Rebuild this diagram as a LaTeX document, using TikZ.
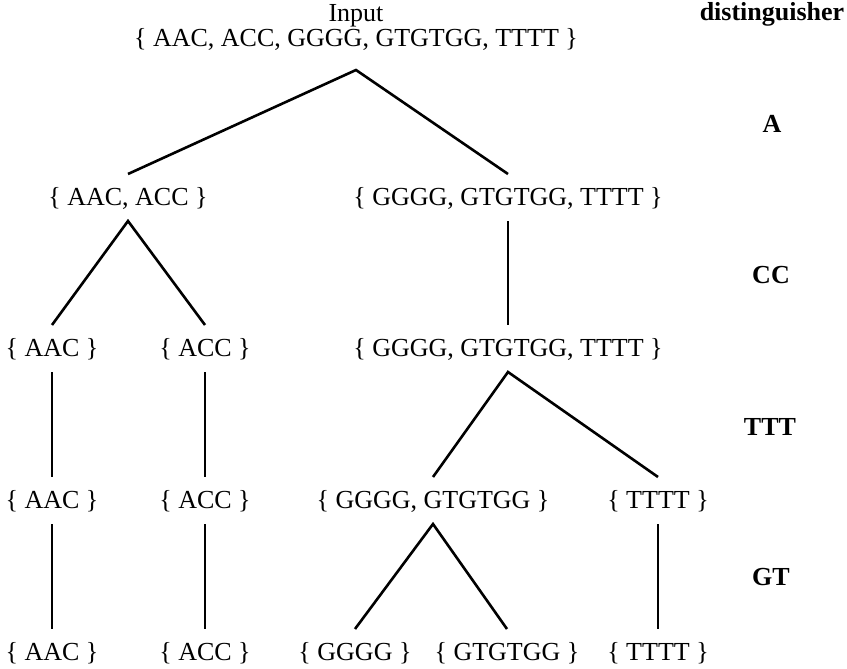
\documentclass[tikz,border=0pt]{standalone}
\usepackage{fontspec}
\setmainfont{Liberation Serif}
\begin{document}
\begin{tikzpicture}[x=1pt,y=-1pt,
  set/.style={anchor=base,inner sep=0pt,text height=20pt,text depth=5pt,outer ysep=11pt,
    font=\fontsize{26}{30}\selectfont},
  dist/.style={anchor=base,inner sep=0pt,font=\fontsize{26}{30}\selectfont\bfseries},
  edge/.style={line width=2.6pt}]
\useasboundingbox (0,0) rectangle (847,669);

% root
\node[set,outer ysep=0pt] (input) at (356,22) {Input};
\node[set,outer ysep=0pt] (root) at (356,47) {\{ AAC, ACC, GGGG, GTGTGG, TTTT \}};
\coordinate (apex) at (356,70);

% level 1
\node[set] (a1) at (128,205) {\{ AAC, ACC \}};
\node[set] (b1) at (508,205) {\{ GGGG, GTGTGG, TTTT \}};
% level 2
\node[set] (a2) at (52,356) {\{ AAC \}};
\node[set] (c2) at (205,356) {\{ ACC \}};
\node[set] (b2) at (508,356) {\{ GGGG, GTGTGG, TTTT \}};
% level 3
\node[set] (a3) at (52,508) {\{ AAC \}};
\node[set] (c3) at (205,508) {\{ ACC \}};
\node[set] (g3) at (433,508) {\{ GGGG, GTGTGG \}};
\node[set] (t3) at (658,508) {\{ TTTT \}};
% level 4
\node[set] (a4) at (52,660) {\{ AAC \}};
\node[set] (c4) at (205,660) {\{ ACC \}};
\node[set] (g4) at (355,660) {\{ GGGG \}};
\node[set] (h4) at (507,660) {\{ GTGTGG \}};
\node[set] (t4) at (658,660) {\{ TTTT \}};

% distinguishers
\node[dist] (dh) at (772,21) {distinguisher};
\node[dist] (d1) at (772,132) {A};
\node[dist] (d2) at (771,283) {CC};
\node[dist] (d3) at (770,435) {TTT};
\node[dist] (d4) at (771,585) {GT};

% edges
\draw[edge] (a1.north) -- (apex) -- (b1.north);
\draw[edge] (a2.north) -- (a1.south) -- (c2.north);
\draw[edge] (b1.south) -- (b2.north);
\draw[edge] (a2.south) -- (a3.north);
\draw[edge] (c2.south) -- (c3.north);
\draw[edge] (g3.north) -- (b2.south) -- (t3.north);
\draw[edge] (a3.south) -- (a4.north);
\draw[edge] (c3.south) -- (c4.north);
\draw[edge] (g4.north) -- (g3.south) -- (h4.north);
\draw[edge] (t3.south) -- (t4.north);
\end{tikzpicture}
\end{document}
